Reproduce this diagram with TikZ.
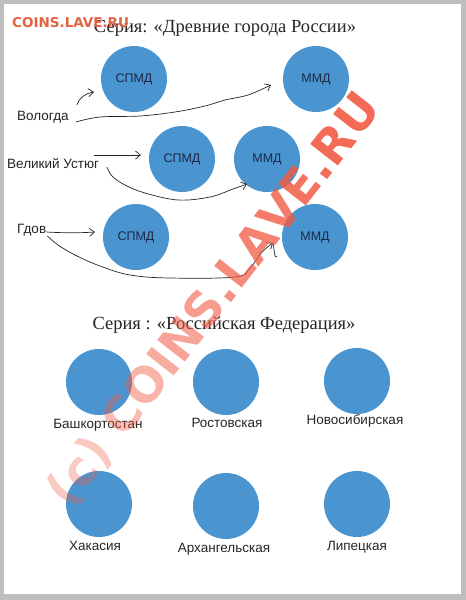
\documentclass[tikz,border=0pt]{standalone}
\usepackage{fontspec}
\setmainfont{Liberation Serif}
\setsansfont{Liberation Sans}
\newfontfamily\wmfont{DejaVu Sans}
\usetikzlibrary{arrows.meta}
\definecolor{frame}{RGB}{190,190,190}
\definecolor{coin}{RGB}{74,148,208}
\definecolor{cointext}{RGB}{28,40,70}
\definecolor{wm}{RGB}{226,98,66}
\definecolor{wmd}{RGB}{242,90,68}
\newcommand{\wop}[2]{\pgfsetfillopacity{#1}#2}
\begin{document}
\begin{tikzpicture}[x=1pt,y=-1pt,
  coin/.style={circle,fill=coin,minimum size=66pt,inner sep=0pt,font=\sffamily\fontsize{12.5}{14}\selectfont,text=cointext},
  lbl/.style={font=\sffamily\fontsize{13.5}{16}\selectfont,text=black!85,inner sep=0pt},
  ttl/.style={font=\fontsize{18.5}{20}\selectfont,text=black!85,inner sep=0pt},
  hand/.style={draw=black!85,line width=0.7pt,-{Straight Barb[length=5pt,width=8pt]}},
]
\useasboundingbox (0,0) rectangle (466,600);
\fill[frame] (0,0) rectangle (466,600);
\fill[white] (4,4) rectangle (461,594);

% titles
\node[ttl] (t1) at (225,28) {Серия: «Древние города России»};
\node[ttl] (t2) at (224,325) {Серия : «Российская Федерация»};

% first series
\node[coin] (s1) at (134,79) {СПМД};
\node[coin] (m1) at (316,79) {ММД};
\node[coin] (s2) at (182,159) {СПМД};
\node[coin] (m2) at (267,159) {ММД};
\node[coin] (s3) at (136,237) {СПМД};
\node[coin] (m3) at (315,237) {ММД};

\node[lbl,anchor=west] (vol) at (17,117) {Вологда};
\node[lbl,anchor=west] (ust) at (7,164) {Великий Устюг};
\node[lbl,anchor=west] (gdov) at (17,230) {Гдов};

% connector ends
\coordinate (v1) at ([shift={(8,-12)}]vol.east);
\coordinate (v1e) at (94,92);
\coordinate (v2) at ([shift={(7,5)}]vol.east);
\coordinate (v2e) at (271,85);
\coordinate (u1) at (94,155);
\coordinate (u1e) at (141,155);
\coordinate (u2) at (107,167);
\coordinate (u2e) at (247,184);
\coordinate (g1) at ([shift={(0,2)}]gdov.east);
\coordinate (g1e) at (95,232);
\coordinate (g2) at ([shift={(1,6)}]gdov.east);
\coordinate (g2e) at (273,243);

\draw[hand] (v1) .. controls +(2,-7) and +(-8,1) .. (v1e);
\draw[hand] plot[smooth,tension=0.6] coordinates {(v2) (100,117) (140,116) (175,112) (205,106) (225,100) (248,95) (v2e)};
\draw[hand] (u1) -- (u1e);
\draw[hand] plot[smooth,tension=0.6] coordinates {(u2) (112,176) (125,185) (145,193) (178,200) (210,197) (233,189) (u2e)};
\draw[hand] (g1) .. controls +(18,1) and +(-15,1) .. (g1e);
\draw[hand] plot[smooth,tension=0.6] coordinates {(g2) (58,245) (75,255) (100,266) (130,275) (170,278) (235,277) (250,268) (262,252) (g2e)};
\draw[draw=black!85,line width=0.7pt] (g2e) -- ++(2,13) -- ++(2,1);

% second series
\node[coin] (b1) at (99,382) {};
\node[coin] (b2) at (226,382) {};
\node[coin] (b3) at (357,381) {};
\node[coin] (c1) at (99,504) {};
\node[coin] (c2) at (226,506) {};
\node[coin] (c3) at (357,504) {};

\node[lbl] (lb1) at (98,425) {Башкортостан};
\node[lbl] (lb2) at (227,423) {Ростовская};
\node[lbl] (lb3) at (355,421) {Новосибирская};
\node[lbl] (lc1) at (95,546) {Хакасия};
\node[lbl] (lc2) at (224,549) {Архангельская};
\node[lbl] (lc3) at (357,547) {Липецкая};

% watermarks
\node[font=\wmfont\bfseries\fontsize{48}{52}\selectfont, text=wmd, rotate=52, inner sep=0pt] (wm2) at (214,300)
  {\wop{0.32}{(c)} \wop{0.4}{C}\wop{0.45}{O}\wop{0.5}{I}\wop{0.55}{N}\wop{0.6}{S}\wop{0.65}{.}\wop{0.7}{L}\wop{0.75}{A}\wop{0.8}{V}\wop{0.84}{E}\wop{0.88}{.}\wop{0.9}{RU}};
\node[font=\wmfont\bfseries\fontsize{13.5}{15}\selectfont, text=wm, anchor=west, inner sep=0pt] (wm1) at (12,23) {COINS.LAVE.RU};
\end{tikzpicture}
\end{document}
